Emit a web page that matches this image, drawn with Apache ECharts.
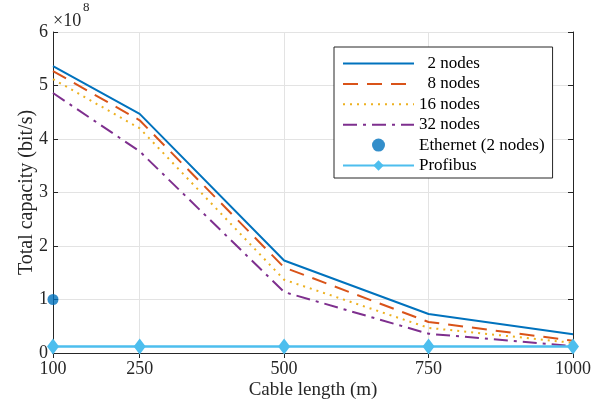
<!DOCTYPE html>
<html><head><meta charset="utf-8">
<script src="https://cdn.jsdelivr.net/npm/echarts@6/dist/echarts.min.js"></script>
<style>html,body{margin:0;padding:0;background:#fff}#c{width:603px;height:405px}</style>
</head><body><div id="c"></div>
<script>
const cableLength = [100, 250, 500, 750, 1000];
const xTicks = [100, 250, 500, 750, 1000];
const yTicks = [0, 1, 2, 3, 4, 5, 6];
const nodes2  = [5.36, 4.47, 1.73, 0.73, 0.35];
const nodes8  = [5.27, 4.35, 1.60, 0.58, 0.23];
const nodes16 = [5.12, 4.20, 1.37, 0.47, 0.19];
const nodes32 = [4.86, 3.77, 1.14, 0.36, 0.13];
const ethernetX = [100];
const ethernetY = [1.0];
const profibus = [0.12, 0.12, 0.12, 0.12, 0.12];
const names = ['  2 nodes', '  8 nodes', '16 nodes', '32 nodes', 'Ethernet (2 nodes)', 'Profibus'];

const font = 'Liberation Serif';
const axisColor = '#262626';
const gridColor = '#e3e3e3';
const pairs = arr => cableLength.map((x, i) => [x, arr[i]]);

function lineSeries(name, arr, color, type) {
  return {
    name, type: 'line', data: pairs(arr), showSymbol: false, symbol: 'circle',
    lineStyle: { color, width: 2, type }, itemStyle: { color },
    z: 3, animation: false
  };
}

const chart = echarts.init(document.getElementById('c'), null, { renderer: 'canvas' });
const gridLines = xTicks.slice(1, -1).map(v => ({ xAxis: v }));
const hidden = { opacity: 0 };
chart.setOption({
  animation: false,
  title: [
    { text: '×10', left: 53, top: 12, padding: 0,
      textStyle: { fontFamily: font, fontSize: 18, fontWeight: 'normal', color: axisColor } },
    { text: '8', left: 83, top: 1, padding: 0,
      textStyle: { fontFamily: font, fontSize: 13, fontWeight: 'normal', color: axisColor } }
  ],
  grid: { left: 53, right: 30, top: 32, bottom: 52 },
  xAxis: [{
    type: 'value', min: 100, max: 1000, position: 'bottom',
    name: 'Cable length (m)', nameLocation: 'middle', nameGap: 28, nameMoveOverlap: false,
    nameTextStyle: { fontFamily: font, fontSize: 19, color: axisColor },
    axisLine: { lineStyle: { color: axisColor, width: 1 } },
    axisTick: { inside: true, length: 5, customValues: xTicks, lineStyle: { color: axisColor } },
    axisLabel: { customValues: xTicks, formatter: v => String(v), fontFamily: font, fontSize: 18, color: axisColor, margin: 7 },
    splitLine: { show: false }
  }, {
    type: 'value', min: 100, max: 1000, position: 'top',
    axisLine: { show: true, lineStyle: { color: axisColor, width: 1 } },
    axisTick: { inside: true, length: 5, customValues: xTicks, lineStyle: { color: axisColor } },
    axisLabel: { show: false }, splitLine: { show: false }
  }],
  yAxis: [{
    type: 'value', min: 0, max: 6, interval: 1, position: 'left',
    name: 'Total capacity (bit/s)', nameLocation: 'middle', nameGap: 16, nameMoveOverlap: false,
    nameTextStyle: { fontFamily: font, fontSize: 20, color: axisColor },
    axisLine: { show: true, lineStyle: { color: axisColor, width: 1 } },
    axisTick: { show: true, inside: true, length: 5, lineStyle: { color: axisColor } },
    axisLabel: { fontFamily: font, fontSize: 18, color: axisColor, margin: 5 },
    splitLine: { show: true, lineStyle: { color: gridColor, width: 1 } }
  }, {
    type: 'value', min: 0, max: 6, interval: 1, position: 'right',
    axisLine: { show: true, lineStyle: { color: axisColor, width: 1 } },
    axisTick: { show: true, inside: true, length: 5, lineStyle: { color: axisColor } },
    axisLabel: { show: false }, splitLine: { show: false }
  }],
  legend: {
    orient: 'vertical', left: 334, top: 47,
    data: [
      { name: names[0], itemStyle: hidden },
      { name: names[1], itemStyle: hidden },
      { name: names[2], itemStyle: hidden },
      { name: names[3], itemStyle: hidden },
      { name: names[4] },
      { name: names[5] }
    ],
    itemWidth: 71, itemHeight: 13, itemGap: 3.4,
    padding: [8, 8, 4, 8],
    backgroundColor: '#fff', borderColor: axisColor, borderWidth: 1, borderRadius: 0,
    textStyle: { fontFamily: font, fontSize: 17, color: '#000' }
  },
  series: [
    Object.assign(lineSeries(names[0], nodes2, '#0072BD', 'solid'), {
      markLine: { silent: true, symbol: 'none', label: { show: false },
        lineStyle: { color: gridColor, width: 1, type: 'solid' }, data: gridLines, z: 1 }
    }),
    lineSeries(names[1], nodes8, '#D95319', [15, 9]),
    lineSeries(names[2], nodes16, '#EDB120', [2, 5]),
    lineSeries(names[3], nodes32, '#7E2F8E', [14, 6, 3, 6]),
    { name: names[4], type: 'scatter', data: ethernetX.map((x, i) => [x, ethernetY[i]]),
      symbol: 'circle', symbolSize: 11, itemStyle: { color: '#0072BD' }, z: 5 },
    { name: names[5], type: 'line', data: pairs(profibus), symbol: 'diamond', symbolSize: [12, 16],
      showSymbol: true, lineStyle: { color: '#4DBEEE', width: 2.5 },
      itemStyle: { color: '#4DBEEE' }, z: 4 }
  ]
});
</script></body></html>
